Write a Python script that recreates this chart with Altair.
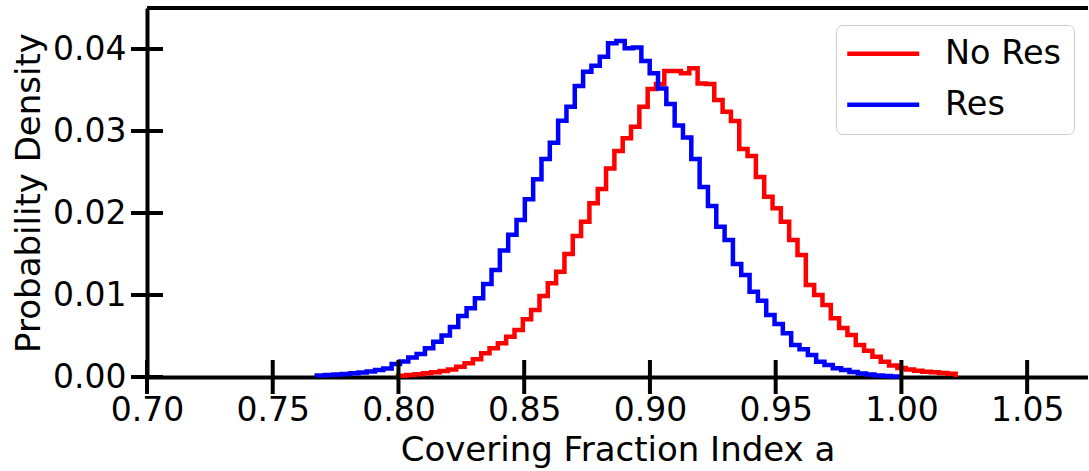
import altair as alt
import pandas as pd

# ---- data ----
bin_width = 0.00331
res_start = 0.7675
nores_start = 0.7998

res_density = [
    0.00018, 0.00024, 0.00030, 0.00037, 0.00045, 0.00055, 0.00067, 0.00085, 0.00104, 0.00159,
    0.00189, 0.00238, 0.00280, 0.00350, 0.00430, 0.00506, 0.00610, 0.00744, 0.00838, 0.00960,
    0.01134, 0.01305, 0.01543, 0.01735, 0.01915, 0.02167, 0.02411, 0.02659, 0.02857, 0.03126,
    0.03296, 0.03549, 0.03723, 0.03796, 0.03906, 0.04070, 0.04098, 0.04009, 0.04018, 0.03854,
    0.03704, 0.03518, 0.03329, 0.03067, 0.02921, 0.02659, 0.02317, 0.02085, 0.01833, 0.01671,
    0.01378, 0.01244, 0.01040, 0.00930, 0.00756, 0.00646, 0.00533, 0.00390, 0.00338, 0.00268,
    0.00187, 0.00146, 0.00106, 0.00085, 0.00061, 0.00043, 0.00030, 0.00018, 0.00012, 0.00006,
]

nores_density = [
    0.00016, 0.00024, 0.00034, 0.00045, 0.00057, 0.00073, 0.00091, 0.00126, 0.00167, 0.00216,
    0.00289, 0.00350, 0.00411, 0.00491, 0.00573, 0.00704, 0.00817, 0.00988, 0.01143, 0.01284,
    0.01500, 0.01720, 0.01894, 0.02118, 0.02293, 0.02543, 0.02756, 0.02911, 0.03052, 0.03296,
    0.03512, 0.03573, 0.03732, 0.03732, 0.03704, 0.03765, 0.03579, 0.03573, 0.03378, 0.03235,
    0.03122, 0.02780, 0.02695, 0.02439, 0.02199, 0.02057, 0.01894, 0.01671, 0.01488, 0.01122,
    0.01000, 0.00878, 0.00716, 0.00598, 0.00512, 0.00390, 0.00320, 0.00248, 0.00187, 0.00140,
    0.00110, 0.00091, 0.00077, 0.00065, 0.00057, 0.00050, 0.00040,
]

series_names = ["No Res", "Res"]
series_colors = ["#ff0000", "#0000ff"]
x_ticks = [0.70, 0.75, 0.80, 0.85, 0.90, 0.95, 1.00, 1.05]
y_ticks = [0.00, 0.01, 0.02, 0.03, 0.04]
x_title = "Covering Fraction Index a"
y_title = "Probability Density"


def step_rows(name, start, dens):
    rows = [{"x": start, "y": 0.0, "series": name, "order": 0}]
    for i, d in enumerate(dens):
        rows.append({"x": start + i * bin_width, "y": d, "series": name, "order": i + 1})
    n = len(dens)
    rows.append({"x": start + n * bin_width, "y": dens[-1], "series": name, "order": n + 1})
    rows.append({"x": start + n * bin_width, "y": 0.0, "series": name, "order": n + 2})
    return rows


df = pd.DataFrame(step_rows("No Res", nores_start, nores_density)
                  + step_rows("Res", res_start, res_density))
xt = pd.DataFrame({"x": x_ticks})
yt = pd.DataFrame({"y": y_ticks})

W, H = 941, 369
FONT = "DejaVu Sans"
xscale = alt.Scale(domain=[0.70, 1.0742], nice=False, zero=False)
yscale = alt.Scale(domain=[0.0, 0.045], nice=False, zero=False)

xaxis = alt.Axis(values=x_ticks, format=".2f", title=x_title, ticks=False, domain=True,
                 labels=True, labelPadding=17, titlePadding=6, grid=False,
                 labelOverlap=False, labelFlush=False)
yaxis = alt.Axis(values=y_ticks, format=".2f", title=y_title, ticks=False, domain=True,
                 labels=True, labelPadding=21, titlePadding=6, grid=False,
                 labelOverlap=False, labelFlush=False)

lines = alt.Chart(df).mark_line(interpolate="step-after", strokeWidth=4.5, strokeJoin="miter").encode(
    x=alt.X("x:Q", scale=xscale, axis=xaxis),
    y=alt.Y("y:Q", scale=yscale, axis=yaxis),
    color=alt.Color("series:N",
                    scale=alt.Scale(domain=series_names, range=series_colors),
                    legend=alt.Legend(orient="none", legendX=689, legendY=17, title=None,
                                      symbolType="M-36,0H36", symbolSize=4, symbolStrokeWidth=4.5,
                                      symbolOffset=18.5, labelOffset=45, labelFontSize=33.5,
                                      labelFont=FONT, labelColor="black", padding=12,
                                      rowPadding=16, strokeColor="#cccccc", fillColor="white",
                                      cornerRadius=6)),
    order="order:Q",
)

xticks = alt.Chart(xt).mark_tick(orient="vertical", size=34, thickness=4, color="black",
                                 opacity=1).encode(
    x=alt.X("x:Q", scale=xscale, axis=xaxis),
    y=alt.value(H),
)

yticks = alt.Chart(yt).mark_tick(orient="horizontal", size=32, thickness=4, color="black",
                                 opacity=1).encode(
    y=alt.Y("y:Q", scale=yscale, axis=yaxis),
    x=alt.value(0),
)

top_spine = alt.Chart(xt).mark_rule(color="black", strokeWidth=4).encode(
    x=alt.value(0), x2=alt.value(W), y=alt.value(0)
)

chart = alt.layer(lines, xticks, yticks, top_spine).properties(
    width=W, height=H,
    autosize=alt.AutoSizeParams(type="none"),
    padding={"left": 147, "top": 8, "right": 0, "bottom": 94},
    background="white",
).configure_view(stroke=None).configure_axis(
    domainColor="black", domainWidth=4, labelColor="black", titleColor="black",
    labelFont=FONT, titleFont=FONT, labelFontSize=33, titleFontSize=34,
    titleFontWeight="normal",
)

chart.save("out.html", embed_options={"renderer": "svg", "actions": False})
